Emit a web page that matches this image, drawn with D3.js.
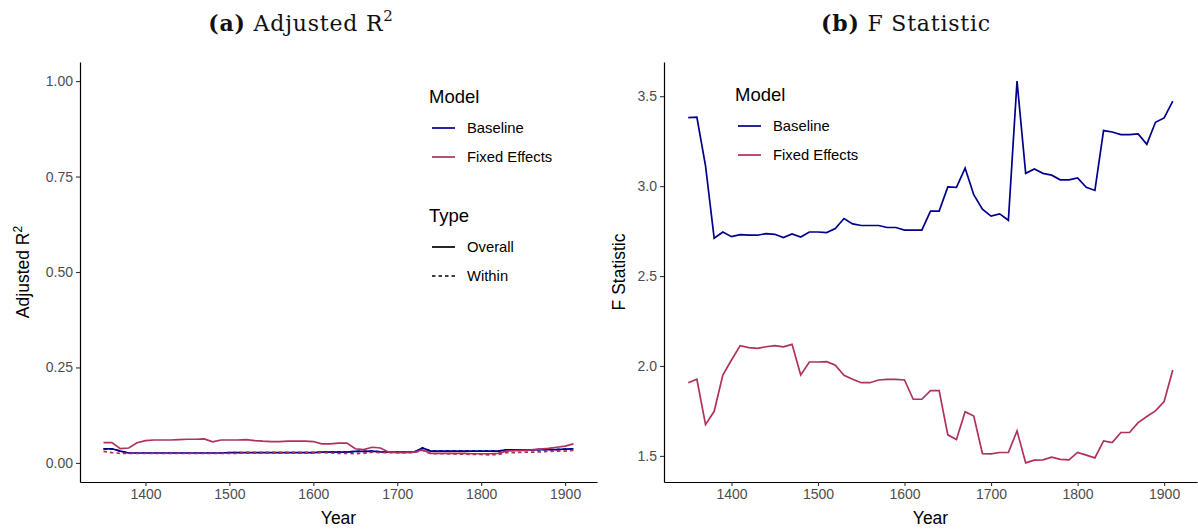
<!DOCTYPE html>
<html>
<head>
<meta charset="utf-8">
<script src="https://cdn.jsdelivr.net/npm/d3@7"></script>
<style>
  body { margin: 0; background: #fff; }
  svg text { font-family: "Liberation Sans", Arial, sans-serif; }
</style>
</head>
<body>
<svg id="chart" width="1198" height="531"></svg>
<script>
const years = d3.range(1350, 1911, 10)

// adjusted R2
const r2BaseOverall = [0.037, 0.037, 0.031, 0.026, 0.026, 0.026, 0.026, 0.026, 0.026, 0.026,
  0.026, 0.026, 0.026, 0.026, 0.026, 0.027, 0.027, 0.027, 0.027, 0.027,
  0.027, 0.027, 0.027, 0.027, 0.027, 0.027, 0.028, 0.028, 0.028, 0.028,
  0.030, 0.030, 0.031, 0.029, 0.028, 0.028, 0.028, 0.028, 0.039, 0.031,
  0.031, 0.031, 0.031, 0.031, 0.031, 0.031, 0.031, 0.031, 0.034, 0.034,
  0.034, 0.034, 0.035, 0.035, 0.035, 0.036, 0.037]
const r2BaseWithin = r2BaseOverall.slice()
const r2FeOverall = [0.053, 0.053, 0.0375, 0.039, 0.053, 0.0585, 0.060, 0.060, 0.060, 0.061,
  0.062, 0.062, 0.063, 0.055, 0.060, 0.060, 0.060, 0.061, 0.0585, 0.057,
  0.056, 0.056, 0.057, 0.057, 0.057, 0.056, 0.050, 0.050, 0.052, 0.052,
  0.037, 0.035, 0.041, 0.039, 0.028, 0.027, 0.027, 0.028, 0.034, 0.025,
  0.025, 0.025, 0.025, 0.025, 0.024, 0.024, 0.024, 0.025, 0.031, 0.032,
  0.033, 0.034, 0.036, 0.038, 0.041, 0.044, 0.050]
const r2FeWithin = [0.030, 0.027, 0.025, 0.025, 0.025, 0.025, 0.025, 0.025, 0.025, 0.025,
  0.025, 0.025, 0.025, 0.025, 0.025, 0.025, 0.025, 0.027, 0.027, 0.027,
  0.027, 0.027, 0.027, 0.027, 0.027, 0.027, 0.027, 0.026, 0.025, 0.025,
  0.024, 0.025, 0.028, 0.027, 0.027, 0.027, 0.027, 0.027, 0.033, 0.024,
  0.024, 0.024, 0.023, 0.023, 0.022, 0.022, 0.021, 0.022, 0.027, 0.027,
  0.028, 0.028, 0.029, 0.030, 0.031, 0.031, 0.033]

// F statistic
const fBase = [3.381, 3.383, 3.113, 2.710, 2.745, 2.719, 2.730, 2.727, 2.727, 2.736,
  2.732, 2.714, 2.734, 2.717, 2.745, 2.745, 2.742, 2.764, 2.820, 2.790,
  2.781, 2.781, 2.781, 2.770, 2.770, 2.755, 2.755, 2.755, 2.861, 2.861,
  2.996, 2.993, 3.100, 2.952, 2.872, 2.833, 2.846, 2.810, 3.584, 3.071,
  3.095, 3.071, 3.061, 3.035, 3.035, 3.045, 2.993, 2.976, 3.309, 3.301,
  3.286, 3.286, 3.290, 3.232, 3.355, 3.379, 3.472]
const fFe = [1.907, 1.926, 1.674, 1.748, 1.950, 2.033, 2.113, 2.102, 2.098, 2.107,
  2.113, 2.106, 2.120, 1.950, 2.022, 2.022, 2.024, 2.004, 1.948, 1.926,
  1.907, 1.907, 1.922, 1.926, 1.926, 1.922, 1.815, 1.815, 1.863, 1.863,
  1.617, 1.591, 1.746, 1.722, 1.513, 1.511, 1.519, 1.519, 1.639, 1.461,
  1.476, 1.478, 1.493, 1.481, 1.478, 1.519, 1.504, 1.489, 1.583, 1.574,
  1.630, 1.630, 1.685, 1.719, 1.750, 1.802, 1.978]

const yearTicks = [1400, 1500, 1600, 1700, 1800, 1900]
const r2Ticks = [0, 0.25, 0.5, 0.75, 1]
const fTicks = [1.5, 2.0, 2.5, 3.0, 3.5]
const models = ["Baseline", "Fixed Effects"]
const types = ["Overall", "Within"]

const colors = {"Baseline": "#00008B", "Fixed Effects": "#B03060"}
const dashes = {"Overall": null, "Within": "3.5,3"}

const svg = d3.select("#chart")

function expand(lo, hi) {
  const pad = (hi - lo) * 0.05
  return [lo - pad, hi + pad]
}

function drawPanel(opts) {
  const x = d3.scaleLinear().domain(expand(1350, 1910)).range([opts.left, opts.right])
  const y = d3.scaleLinear().domain(opts.yDomain).range([opts.bottom, opts.top])
  const g = svg.append("g")

  const line = d3.line().x((d, i) => x(years[i])).y(d => y(d))
  opts.series.forEach(s => {
    g.append("path")
      .datum(s.values)
      .attr("fill", "none")
      .attr("stroke", colors[s.model])
      .attr("stroke-width", 1.7)
      .attr("stroke-dasharray", dashes[s.type])
      .attr("d", line)
  })

  const xAxis = g.append("g")
    .attr("transform", `translate(0,${opts.bottom})`)
    .call(d3.axisBottom(x).tickValues(yearTicks).tickFormat(d3.format("d"))
      .tickSizeInner(4).tickSizeOuter(0).tickPadding(3))
  const yAxis = g.append("g")
    .attr("transform", `translate(${opts.left},0)`)
    .call(d3.axisLeft(y).tickValues(opts.yTicks).tickFormat(opts.yFormat)
      .tickSizeInner(4).tickSizeOuter(0).tickPadding(3))
  ;[xAxis, yAxis].forEach(a => {
    a.select(".domain").attr("stroke", "#000").attr("stroke-width", 1.2)
    a.selectAll(".tick line").attr("stroke", "#333").attr("stroke-width", 1.1)
    a.selectAll(".tick text").attr("fill", "#4D4D4D").style("font-size", "14px")
  })

  g.append("text")
    .attr("x", (opts.left + opts.right) / 2)
    .attr("y", 524)
    .attr("text-anchor", "middle")
    .style("font-size", "17.5px")
    .text("Year")

  const yt = g.append("text")
    .attr("transform", `translate(${opts.yTitleX},${(opts.top + opts.bottom) / 2}) rotate(-90)`)
    .attr("text-anchor", "middle")
    .style("font-size", "17.5px")
  yt.append("tspan").text(opts.yTitle)
  if (opts.yTitleSup) {
    yt.append("tspan").attr("dy", -7).style("font-size", "12px").text(opts.yTitleSup)
  }

  // panel title in a serif face
  const t = svg.append("text")
    .attr("x", opts.titleX)
    .attr("y", 31)
    .attr("text-anchor", "middle")
    .style("font-family", "'DejaVu Serif', 'Liberation Serif', serif")
    .style("font-size", "22px")
    .style("letter-spacing", "0.8px")
    .attr("fill", "#111")
  t.append("tspan").style("font-weight", "bold").text(opts.tag)
  t.append("tspan").text(" " + opts.title)
  if (opts.titleSup) {
    t.append("tspan").attr("dy", -10).style("font-size", "15px").text(opts.titleSup)
  }

  // legends
  opts.legends.forEach(lg => {
    g.append("text")
      .attr("x", lg.x)
      .attr("y", lg.y)
      .style("font-size", "18.5px")
      .text(lg.title)
    lg.items.forEach((it, i) => {
      const yy = lg.y + 25 + i * 29
      g.append("line")
        .attr("x1", lg.x + 3).attr("x2", lg.x + 26)
        .attr("y1", yy).attr("y2", yy)
        .attr("stroke", it.color)
        .attr("stroke-width", 1.7)
        .attr("stroke-dasharray", it.dash)
      g.append("text")
        .attr("x", lg.x + 38)
        .attr("y", yy + 5)
        .style("font-size", "14.8px")
        .text(it.label)
    })
  })
}

const modelItems = models.map(m => ({label: m, color: colors[m], dash: null}))
const typeItems = types.map(t => ({label: t, color: "#000", dash: dashes[t]}))

drawPanel({
  left: 80, right: 597, top: 62, bottom: 482,
  yDomain: expand(0, 1),
  yTicks: r2Ticks,
  yFormat: d3.format(".2f"),
  yTitle: "Adjusted R", yTitleSup: "2", yTitleX: 29,
  tag: "(a)", title: "Adjusted R", titleSup: "2", titleX: 301,
  series: [
    {model: "Baseline", type: "Overall", values: r2BaseOverall},
    {model: "Baseline", type: "Within", values: r2BaseWithin},
    {model: "Fixed Effects", type: "Overall", values: r2FeOverall},
    {model: "Fixed Effects", type: "Within", values: r2FeWithin}
  ],
  legends: [
    {title: "Model", x: 429, y: 103, items: modelItems},
    {title: "Type", x: 429, y: 222, items: typeItems}
  ]
})

drawPanel({
  left: 664, right: 1197, top: 62, bottom: 482,
  yDomain: expand(d3.min(fFe), d3.max(fBase)),
  yTicks: fTicks,
  yFormat: d3.format(".1f"),
  yTitle: "F Statistic", yTitleX: 625,
  tag: "(b)", title: "F Statistic", titleX: 906,
  series: [
    {model: "Baseline", type: "Overall", values: fBase},
    {model: "Fixed Effects", type: "Overall", values: fFe}
  ],
  legends: [
    {title: "Model", x: 735, y: 101, items: modelItems}
  ]
})
</script>
</body>
</html>
